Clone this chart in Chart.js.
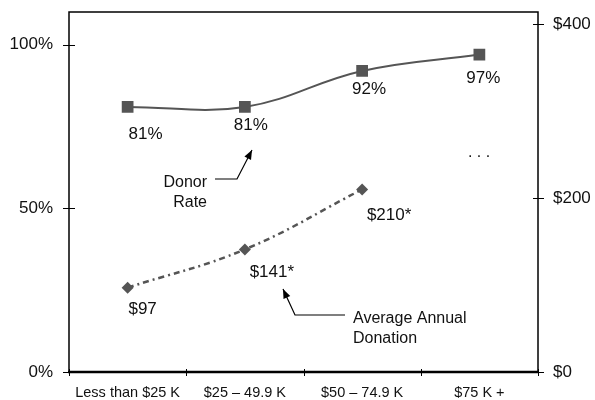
<!DOCTYPE html>
<html>
<head>
<meta charset="utf-8">
<script src="https://cdn.jsdelivr.net/npm/chart.js@4.4.1/dist/chart.umd.min.js"></script>
<style>
  html, body { margin: 0; padding: 0; background: #fff; }
  #wrap { width: 595px; height: 400px; }
</style>
</head>
<body>
<div id="wrap"><canvas id="myChart" width="595" height="400"></canvas></div>
<script>
// income groups
var categories = ['Less than $25 K', '$25 \u2013 49.9 K', '$50 \u2013 74.9 K', '$75 K +'];
// donor rate, percent
var donorRate = [81, 81, 92, 97];
var donorRateLabels = ['81%', '81%', '92%', '97%'];
// average annual donation, dollars (no value for top group)
var avgDonation = [97, 141, 210, null];
var avgDonationLabels = ['$97', '$141*', '$210*', ''];
// axis ticks
var rateTicks = [0, 50, 100];
var rateTickLabels = ['0%', '50%', '100%'];
var amtTicks = [0, 200, 400];
var amtTickLabels = ['$0', '$200', '$400'];

var FONT = '"Liberation Sans", Arial, sans-serif';
var INK = '#111';
var SERIES = '#555';

// label offsets from each point, px
var rateOffsets = [[18, 27], [6, 18], [7, 18], [4, 24]];
var amtOffsets = [[15, 22], [27, 23], [27, 26]];

function noPad(s) {
    s.paddingTop = 0; s.paddingBottom = 0;
    s.paddingLeft = 0; s.paddingRight = 0;
}

var extras = {
    id: 'extras',
    afterDraw: function (chart) {
        var ctx = chart.ctx;
        var a = chart.chartArea;
        var x = chart.scales.x, yl = chart.scales.yRate, yr = chart.scales.yAmt;
        ctx.save();
        // frame
        ctx.strokeStyle = '#000';
        ctx.lineWidth = 1.5;
        ctx.strokeRect(a.left, a.top, a.right - a.left, a.bottom - a.top);
        ctx.lineWidth = 2.5;
        ctx.beginPath();
        ctx.moveTo(a.left - 1, a.bottom);
        ctx.lineTo(a.right + 1, a.bottom);
        ctx.stroke();
        // tick marks crossing the axes
        ctx.lineWidth = 1;
        ctx.beginPath();
        rateTicks.forEach(function (v) {
            var py = Math.round(yl.getPixelForValue(v)) + 0.5;
            ctx.moveTo(a.left - 6, py); ctx.lineTo(a.left + 6, py);
        });
        amtTicks.forEach(function (v) {
            var py = Math.round(yr.getPixelForValue(v)) + 0.5;
            ctx.moveTo(a.right - 5, py); ctx.lineTo(a.right + 6, py);
        });
        for (var i = 0; i <= categories.length; i++) {
            var px = Math.round(x.getPixelForValue(i - 0.5)) + 0.5;
            ctx.moveTo(px, a.bottom - 3); ctx.lineTo(px, a.bottom + 4);
        }
        ctx.stroke();

        // value labels
        ctx.fillStyle = INK;
        ctx.font = '17px ' + FONT;
        ctx.textAlign = 'center';
        ctx.textBaseline = 'middle';
        chart.getDatasetMeta(0).data.forEach(function (p, i) {
            ctx.fillText(donorRateLabels[i], p.x + rateOffsets[i][0], p.y + rateOffsets[i][1]);
        });
        chart.getDatasetMeta(1).data.forEach(function (p, i) {
            if (avgDonation[i] === null) return;
            ctx.fillText(avgDonationLabels[i], p.x + amtOffsets[i][0], p.y + amtOffsets[i][1]);
        });
        ctx.textBaseline = 'alphabetic';
        ctx.font = '16px ' + FONT;
        ctx.fillText('. . .', 479, 157);

        // callouts
        ctx.font = '16px ' + FONT;
        ctx.textBaseline = 'middle';
        ctx.textAlign = 'right';
        ctx.fillText('Donor', 207, 183);
        ctx.fillText('Rate', 207, 203);
        ctx.textAlign = 'left';
        ctx.fillText('Average Annual', 353, 319);
        ctx.fillText('Donation', 353, 339);

        function arrow(pts) {
            ctx.strokeStyle = '#000';
            ctx.fillStyle = '#000';
            ctx.lineWidth = 1.2;
            ctx.beginPath();
            ctx.moveTo(pts[0][0], pts[0][1]);
            for (var k = 1; k < pts.length; k++) ctx.lineTo(pts[k][0], pts[k][1]);
            ctx.stroke();
            var t = pts[pts.length - 1], f = pts[pts.length - 2];
            var ang = Math.atan2(t[1] - f[1], t[0] - f[0]);
            ctx.beginPath();
            ctx.moveTo(t[0], t[1]);
            ctx.lineTo(t[0] - 10 * Math.cos(ang - 0.38), t[1] - 10 * Math.sin(ang - 0.38));
            ctx.lineTo(t[0] - 10 * Math.cos(ang + 0.38), t[1] - 10 * Math.sin(ang + 0.38));
            ctx.closePath();
            ctx.fill();
        }
        arrow([[215, 179], [237, 179], [252, 150]]);
        arrow([[345, 315], [295, 315], [283, 289]]);
        ctx.restore();
    }
};

var ctx = document.getElementById('myChart').getContext('2d');
var chart = new Chart(ctx, {
    type: 'line',
    data: {
        labels: categories,
        datasets: [{
            label: 'Donor Rate',
            data: donorRate,
            yAxisID: 'yRate',
            borderColor: SERIES,
            borderWidth: 2,
            tension: 0.4,
            pointStyle: 'rect',
            pointRadius: 8.3,
            pointBackgroundColor: SERIES,
            pointBorderColor: SERIES,
            pointBorderWidth: 0
        }, {
            label: 'Average Annual Donation',
            data: avgDonation,
            yAxisID: 'yAmt',
            borderColor: SERIES,
            borderWidth: 2.5,
            borderDash: [6, 4, 2, 4],
            tension: 0.4,
            pointStyle: 'rectRot',
            pointRadius: 6,
            pointBackgroundColor: SERIES,
            pointBorderColor: SERIES,
            pointBorderWidth: 0
        }]
    },
    options: {
        responsive: false,
        animation: false,
        layout: { padding: { top: 12, left: 0, right: 0, bottom: 0 } },
        plugins: { legend: { display: false }, tooltip: { enabled: false } },
        scales: {
            x: {
                offset: true,
                grid: { display: false, drawTicks: false },
                border: { display: false },
                ticks: { color: INK, font: { family: FONT, size: 14.5 }, padding: 12, maxRotation: 0 },
                afterFit: function (s) { s.height = 28; noPad(s); }
            },
            yRate: {
                position: 'left',
                min: 0,
                max: 110,
                grid: { display: false, drawTicks: false },
                border: { display: false },
                afterBuildTicks: function (s) { s.ticks = rateTicks.map(function (v) { return { value: v }; }); },
                ticks: {
                    color: INK, font: { family: FONT, size: 17 }, padding: 16,
                    callback: function (v) { return rateTickLabels[rateTicks.indexOf(v)]; }
                },
                afterFit: function (s) { s.width = 69; noPad(s); }
            },
            yAmt: {
                position: 'right',
                min: 0,
                max: 414,
                grid: { display: false, drawTicks: false },
                border: { display: false },
                afterBuildTicks: function (s) { s.ticks = amtTicks.map(function (v) { return { value: v }; }); },
                ticks: {
                    color: INK, font: { family: FONT, size: 17 }, padding: 15,
                    callback: function (v) { return amtTickLabels[amtTicks.indexOf(v)]; }
                },
                afterFit: function (s) { s.width = 57; noPad(s); }
            }
        }
    },
    plugins: [extras]
});
</script>
</body>
</html>
